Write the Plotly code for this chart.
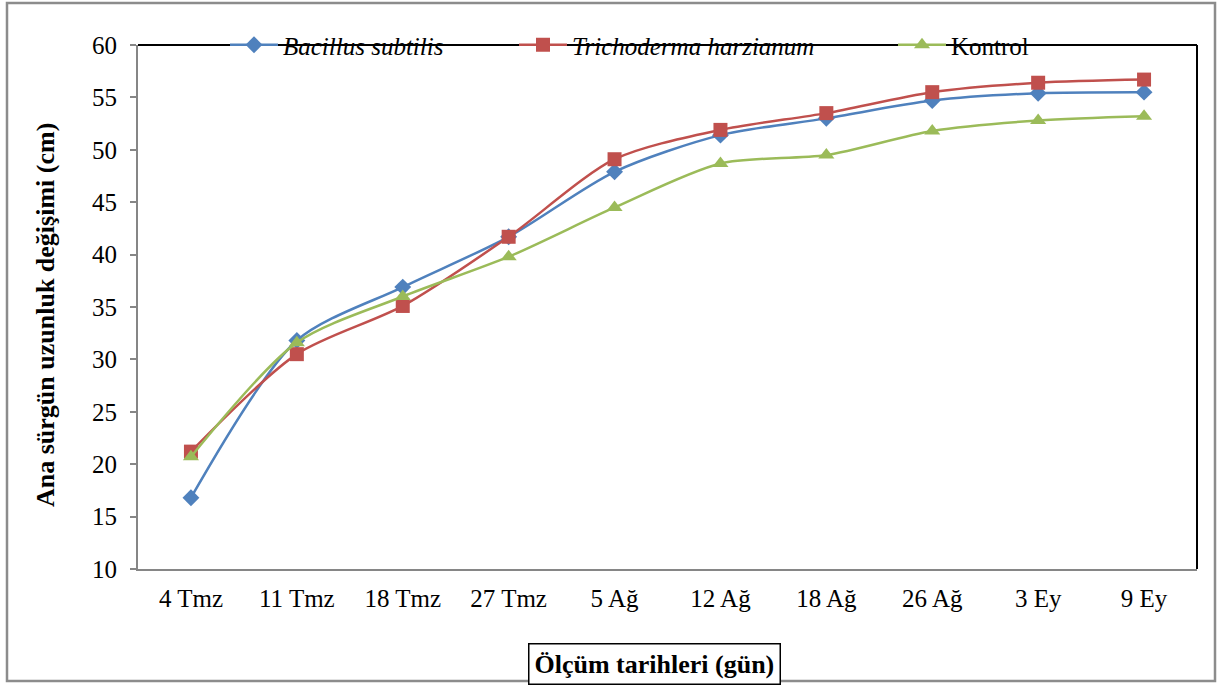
import plotly.graph_objects as go

categories = ["4 Tmz", "11 Tmz", "18 Tmz", "27 Tmz", "5 Ağ", "12 Ağ", "18 Ağ", "26 Ağ", "3 Ey", "9 Ey"]
bacillus = [16.8, 31.8, 36.9, 41.7, 47.9, 51.4, 53.0, 54.7, 55.4, 55.5]
trichoderma = [21.2, 30.5, 35.1, 41.7, 49.1, 51.9, 53.5, 55.5, 56.4, 56.7]
kontrol = [20.7, 31.6, 36.0, 39.8, 44.5, 48.7, 49.5, 51.8, 52.8, 53.2]

series_names = ["<i>Bacillus subtilis</i>", "<i>Trichoderma harzianum</i>", "Kontrol"]
colors = ["#4F81BD", "#C0504D", "#9BBB59"]
symbols = ["diamond", "square", "triangle-up"]
sizes = [13, 14, 14]
legend_widths = [226, 316, None]

FONT = "Liberation Serif"

fig = go.Figure()
for name, vals, col, sym, sz, lw in zip(series_names, [bacillus, trichoderma, kontrol], colors, symbols, sizes, legend_widths):
    tr = go.Scatter(
        x=categories, y=vals, name=name, mode="lines+markers",
        line=dict(color=col, width=2.5, shape="spline", smoothing=0.8),
        marker=dict(symbol=sym, size=sz, color=col),
    )
    if lw:
        tr.legendwidth = lw
    fig.add_trace(tr)

fig.update_layout(
    width=1218, height=686,
    margin=dict(l=138, r=21, t=45, b=117),
    paper_bgcolor="white", plot_bgcolor="white",
    font=dict(family=FONT, size=25, color="black"),
    showlegend=True,
    legend=dict(orientation="h", x=(225 - 138) / 1059, xanchor="left", y=1.0, yanchor="middle",
                bgcolor="rgba(0,0,0,0)", font=dict(family=FONT, size=25, color="black"),
                itemwidth=48, traceorder="normal", tracegroupgap=0),
    xaxis=dict(type="category", range=[-0.5, 9.5], showgrid=False, showline=True, linecolor="#868686", linewidth=2,
               ticks="", tickfont=dict(family=FONT, size=25), zeroline=False, ticklabelstandoff=6),
    yaxis=dict(range=[10, 60], dtick=5, tick0=10, showgrid=False, showline=True, linecolor="#868686",
               linewidth=2, ticks="outside", ticklen=6, tickcolor="#868686", tickwidth=1.5,
               tickfont=dict(family=FONT, size=25), zeroline=False, ticklabelstandoff=8),
    shapes=[
        dict(type="line", xref="paper", yref="paper", x0=0, x1=1, y0=1, y1=1, line=dict(color="black", width=2), layer="below"),
        dict(type="line", xref="paper", yref="paper", x0=1, x1=1, y0=0, y1=1, line=dict(color="black", width=2), layer="below"),
    ],
    annotations=[
        dict(text="<b>Ana sürgün uzunluk değişimi (cm)</b>", xref="paper", yref="paper",
             x=(45 - 138) / 1059, y=(569 - 315) / 524, xanchor="center", yanchor="middle",
             textangle=-90, showarrow=False, font=dict(family=FONT, size=26, color="black")),
        dict(text="<b>Ölçüm tarihleri (gün)</b>", xref="paper", yref="paper",
             x=(654 - 138) / 1059, y=-(664 - 569) / 524, xanchor="center", yanchor="middle",
             showarrow=False, font=dict(family=FONT, size=26, color="black"),
             bordercolor="black", borderwidth=1.5, borderpad=5, bgcolor="white"),
    ],
)

# outer gray frame of the whole chart
fig.add_shape(type="rect", xref="paper", yref="paper",
              x0=(7 - 138) / 1059, x1=(1215 - 138) / 1059,
              y0=-(681 - 569) / 524, y1=(569 - 3) / 524,
              line=dict(color="#8C8C8C", width=2.5), fillcolor="rgba(0,0,0,0)", layer="above")

fig.write_html("out.html")
